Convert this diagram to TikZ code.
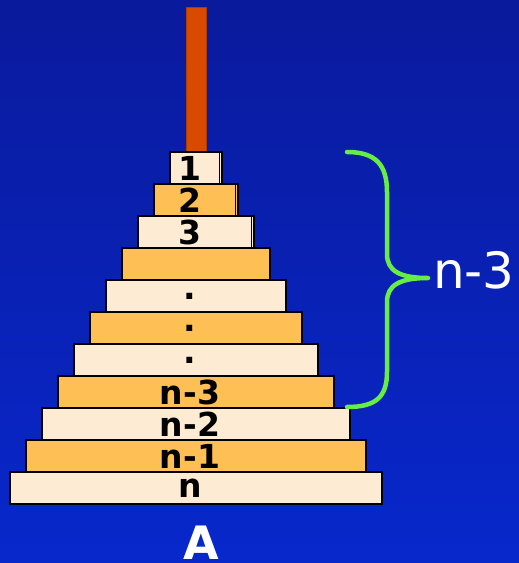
\documentclass[tikz,border=0pt]{standalone}
\usepackage{fontspec}
\setmainfont{DejaVu Sans}
\usepackage{tikz}
\usepackage{xcolor}
\usetikzlibrary{positioning,calc}
\definecolor{skytop}{HTML}{0A1A9C}
\definecolor{skybot}{HTML}{0828CC}
\definecolor{pegred}{HTML}{D84A00}
\definecolor{diskfill1}{HTML}{FEEBD3}
\definecolor{diskfill0}{HTML}{FEBF55}
\definecolor{bracegreen}{HTML}{66EE44}

\begin{document}
\begin{tikzpicture}[x=1pt,y=-1pt,
    disk/.style={draw=black,line width=1.6pt,minimum height=32pt,inner sep=0pt,
                 font=\fontsize{33}{33}\selectfont\bfseries},
    bracepath/.style={draw=bracegreen,line width=4.5pt,line cap=round,line join=round}]
  % background
  \shade[top color=skytop,bottom color=skybot] (0,0) rectangle (519,563);
  \useasboundingbox (0,0) rectangle (519,563);
  % peg
  \node[fill=pegred,draw=pegred!80!black,line width=0.4pt,minimum width=20pt,
        minimum height=144pt,inner sep=0pt] (peg) at (196,79) {};
  % disks, top to bottom
  \foreach \lbl [count=\k] in {1,2,3,{},.,.,.,n-3,n-2,n-1,n}{
    \pgfmathtruncatemacro\odd{mod(\k,2)}
    \pgfmathsetmacro\diskwd{20+32*\k}
    \node[disk,fill=diskfill\odd,minimum width=\diskwd pt] (disk\k) at (196,{136+32*\k})
      {\lbl\hspace*{12pt}};
  }
  % double edge on the small disks
  \foreach \k in {1,2,3}
    \draw[line width=1.2pt] ([xshift=-3.5pt]disk\k.north east) -- ([xshift=-3.5pt]disk\k.south east);
  % tower name
  \node[anchor=north,inner sep=0pt,text=white,
        font=\fontsize{46}{46}\selectfont\bfseries] (towerA) at (201,526) {A};
  % brace
  \coordinate (btop) at (347,152);
  \coordinate (btip) at (428,278);
  \coordinate (bbot) at (347,407);
  \draw[bracepath] (btop) .. controls (376,152) and (387,165) .. (387,192)
    -- (387,254) .. controls (387,271) and (400,278) .. (btip)
    .. controls (400,278) and (387,285) .. (387,302)
    -- (387,372) .. controls (387,397) and (376,407) .. (bbot);
  \node[anchor=west,inner sep=0pt,text=white,
        font=\fontsize{50}{50}\selectfont] (count) at (433,270) {n-3};
\end{tikzpicture}
\end{document}
